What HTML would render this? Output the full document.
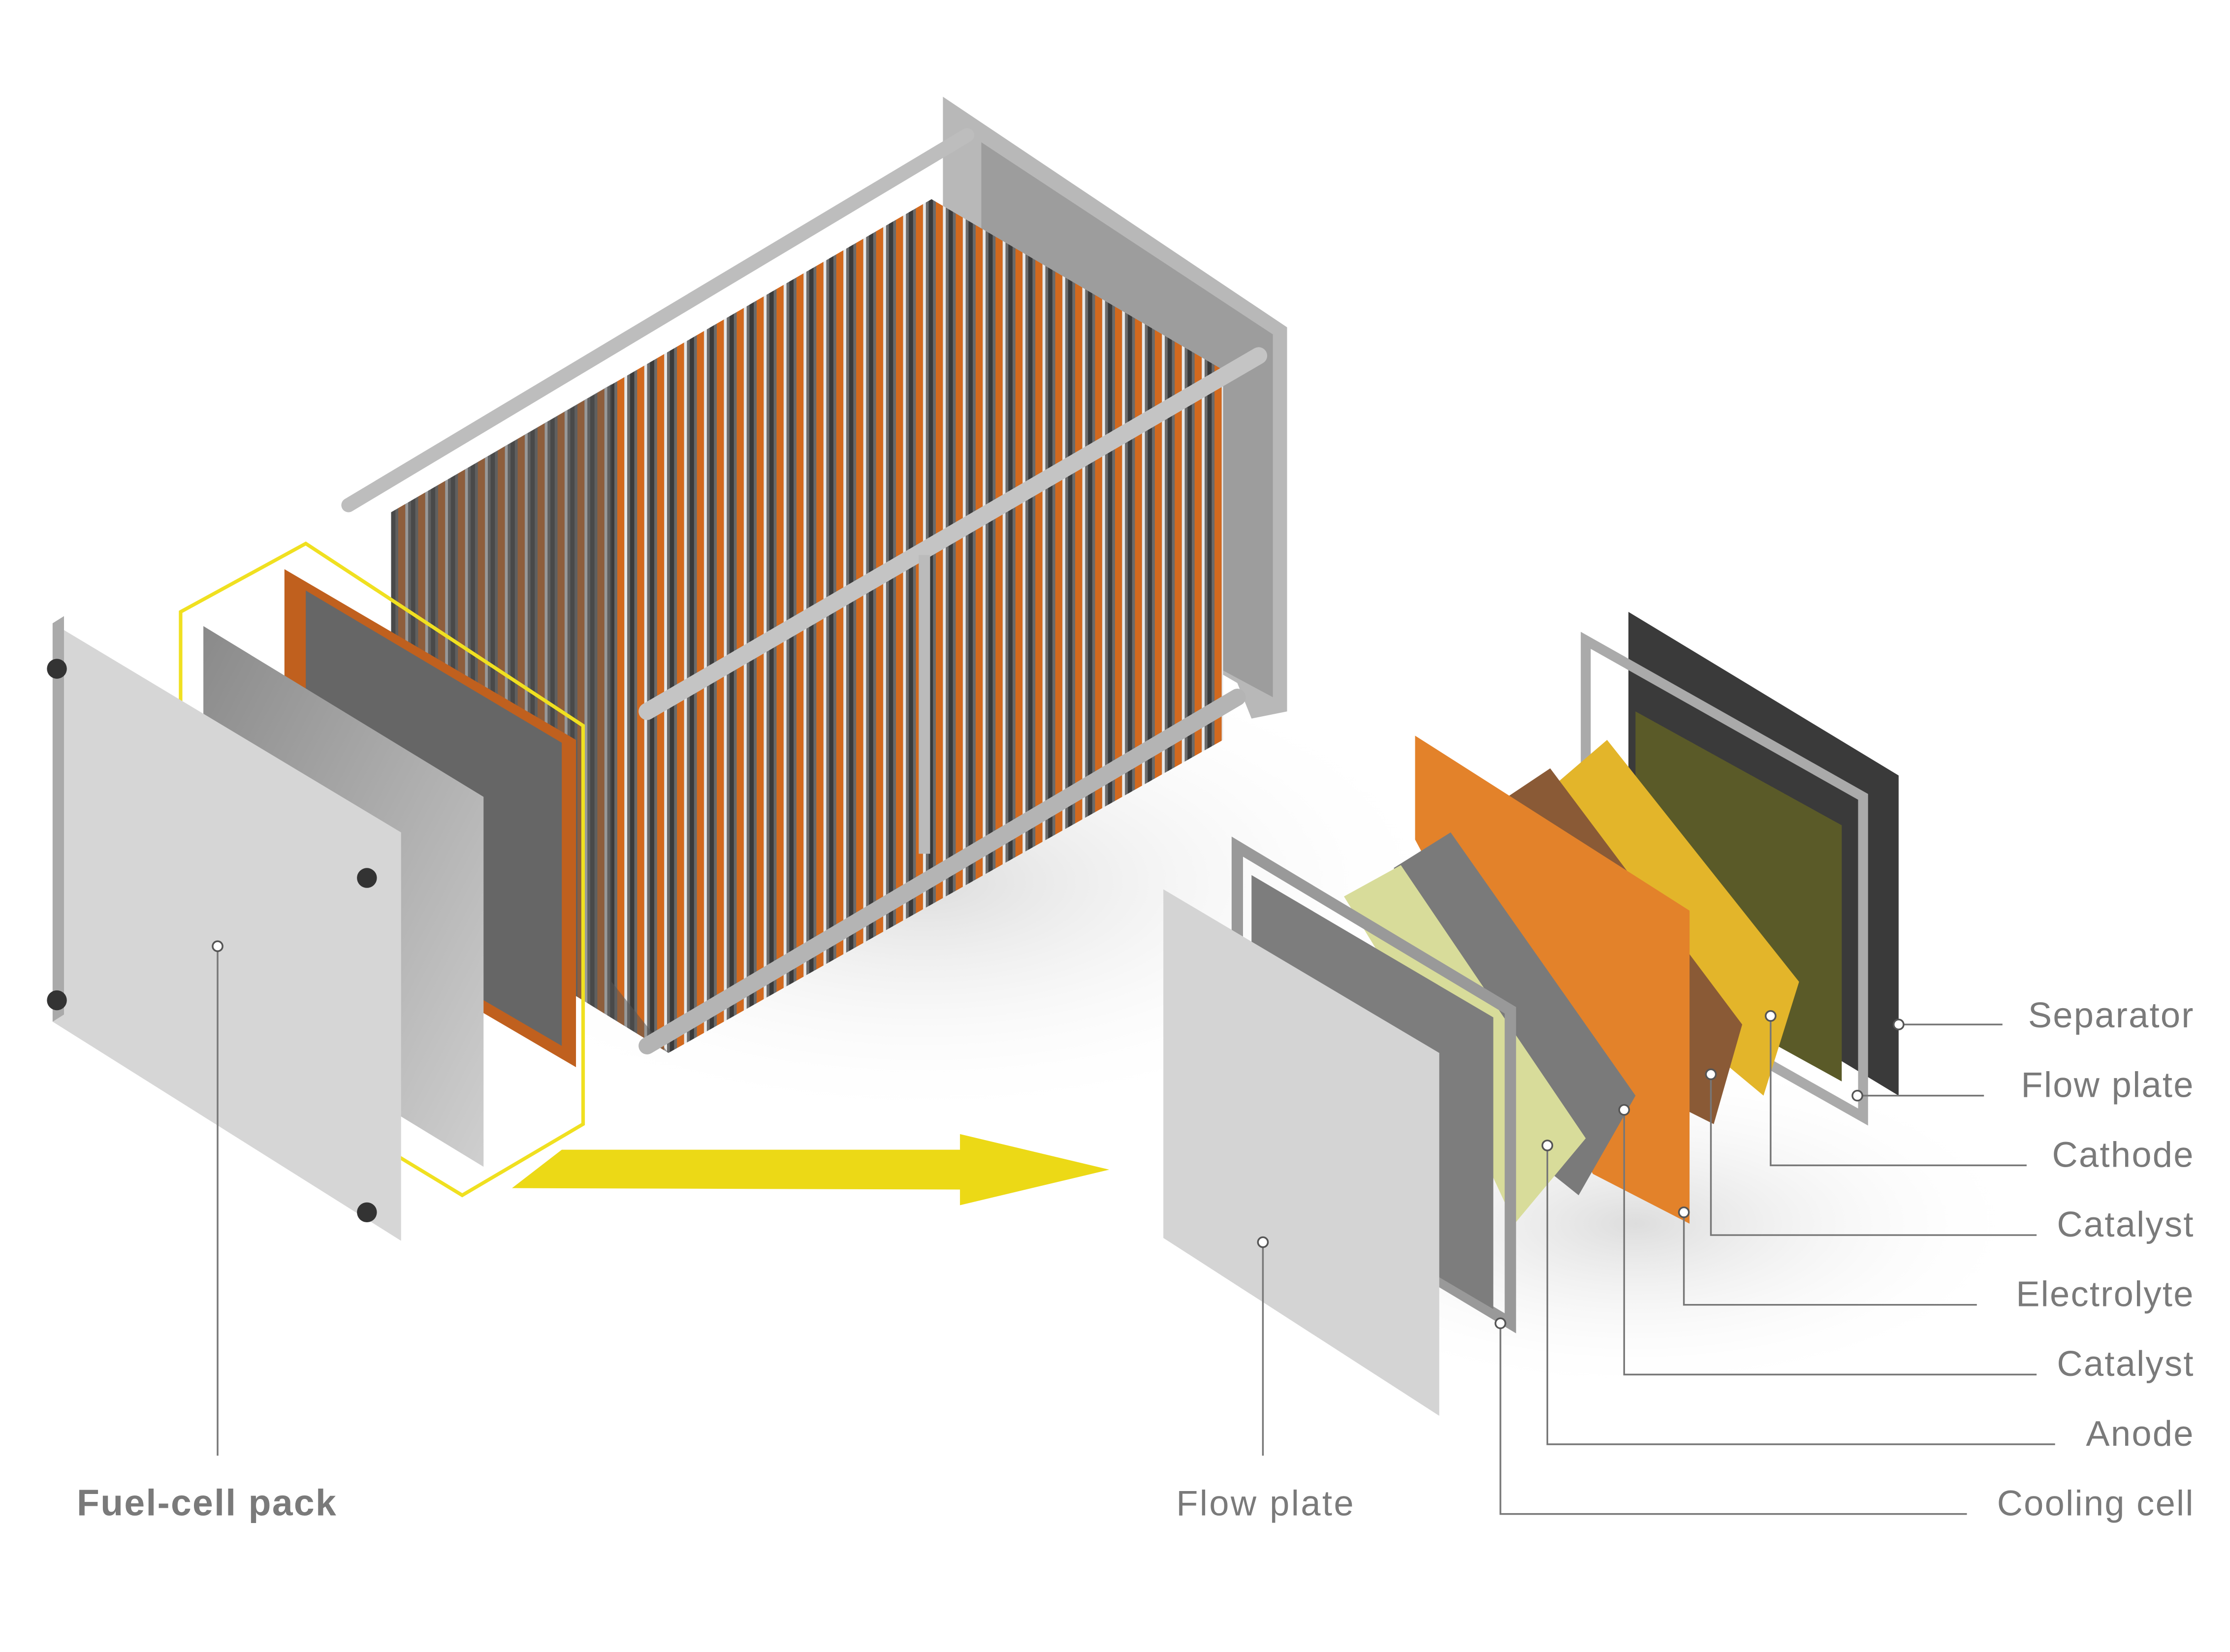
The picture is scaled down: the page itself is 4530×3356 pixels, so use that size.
<!DOCTYPE html>
<html><head><meta charset="utf-8"><style>
html,body{margin:0;padding:0;background:#fff;}
svg{display:block}
text{font-family:"Liberation Sans",sans-serif;fill:#7a7a7a;font-size:25px;letter-spacing:0.8px}
</style></head><body>
<svg width="4530" height="3356" viewBox="0 0 1568 1161" preserveAspectRatio="none" xmlns="http://www.w3.org/2000/svg">
<defs>
<pattern id="stripes" width="14" height="14" patternUnits="userSpaceOnUse" patternTransform="skewY(-30)">
<rect width="14" height="14" fill="#6a6a6a"/>
<rect x="0" width="5" height="14" fill="#d2691e"/>
<rect x="5" width="2" height="14" fill="#e8e8e8"/>
<rect x="9" width="3" height="14" fill="#3a3a3a"/>
</pattern>
<linearGradient id="gplate" x1="0" y1="0" x2="1" y2="1"><stop offset="0" stop-color="#8a8a8a"/><stop offset="1" stop-color="#cfcfcf"/></linearGradient>
<radialGradient id="shadow"><stop offset="0" stop-color="#ddd"/><stop offset="1" stop-color="#fff" stop-opacity="0"/></radialGradient>
</defs>
<rect width="1568" height="1161" fill="#fff"/>
<ellipse cx="650" cy="620" rx="380" ry="170" fill="url(#shadow)"/>
<ellipse cx="1150" cy="860" rx="280" ry="120" fill="url(#shadow)"/>
<polygon points="663,68 905,230 905,500 880,505 870,480 663,360" fill="#b8b8b8"/>
<polygon points="690,100 895,235 895,490 690,380" fill="#9d9d9d"/>
<polygon points="275,360 655,140 860,260 860,520 470,740 275,620" fill="url(#stripes)"/>
<polygon points="275,360 430,270 430,690 470,740 275,620" fill="#555" opacity="0.55"/>
<line x1="245" y1="355" x2="680" y2="95" stroke="#bdbdbd" stroke-width="10" stroke-linecap="round"/>
<line x1="455" y1="500" x2="885" y2="250" stroke="#c4c4c4" stroke-width="12" stroke-linecap="round"/>
<line x1="455" y1="735" x2="870" y2="490" stroke="#b4b4b4" stroke-width="12" stroke-linecap="round"/>
<line x1="650" y1="390" x2="650" y2="600" stroke="#bbb" stroke-width="8"/>
<polygon points="200,400 405,520 405,750 200,630" fill="#c0601e"/>
<polygon points="215,415 395,522 395,735 215,630" fill="#666"/>
<polygon points="143,440 340,560 340,820 143,700" fill="url(#gplate)"/>
<polygon points="127,430 215,382 410,510 410,790 325,840 127,720" fill="none" stroke="#f0e020" stroke-width="2.5"/>
<polygon points="37,438 282,585 282,872 37,718" fill="#d6d6d6"/>
<polygon points="37,438 45,433 45,713 37,718" fill="#aaa"/>
<circle cx="40" cy="470" r="7" fill="#333"/><circle cx="40" cy="703" r="7" fill="#333"/>
<circle cx="258" cy="617" r="7" fill="#333"/><circle cx="258" cy="852" r="7" fill="#333"/>
<polygon points="360,835 395,808 675,808 675,797 780,822 675,847 675,836" fill="#ecd916"/>
<polygon points="1145,430 1335,545 1335,770 1145,655" fill="#3a3a3a"/>
<polygon points="1115,450 1310,560 1310,785 1115,675" fill="none" stroke="#aaa" stroke-width="7"/>
<polygon points="1150,500 1295,580 1295,760 1150,680" fill="#5a5a28"/>
<polygon points="1095,550 1130,520 1265,690 1240,770 1180,720" fill="#e3b52a"/>
<polygon points="1060,560 1090,540 1225,720 1205,790 1145,760" fill="#8a5a36"/>
<polygon points="995,517 1188,640 1188,860 1120,825 995,590" fill="#e3822a"/>
<polygon points="980,610 1020,585 1150,770 1110,840 1060,800" fill="#7a7a7a"/>
<polygon points="945,630 985,608 1115,800 1065,860 1000,720" fill="#d8dc9a"/>
<polygon points="870,595 1062,710 1062,930 870,815" fill="none" stroke="#999" stroke-width="8"/>
<polygon points="880,615 1050,715 1050,920 880,820" fill="#7d7d7d"/>
<polygon points="818,625 1012,740 1012,995 818,870" fill="#d4d4d4"/>
<g stroke="#777" stroke-width="1.2" fill="none">
<polyline points="1335,720 1408,720"/>
<polyline points="1306,770 1395,770"/>
<polyline points="1245,714 1245,819 1425,819"/>
<polyline points="1203,755 1203,868 1432,868"/>
<polyline points="1184,852 1184,917 1390,917"/>
<polyline points="1142,780 1142,966 1432,966"/>
<polyline points="1088,805 1088,1015 1445,1015"/>
<polyline points="1055,930 1055,1064 1383,1064"/>
<polyline points="888,873 888,1023"/>
<polyline points="153,665 153,1023"/>
</g>
<g fill="#fff" stroke="#555" stroke-width="1.2">
<circle cx="1335" cy="720" r="3.5"/><circle cx="1306" cy="770" r="3.5"/><circle cx="1245" cy="714" r="3.5"/>
<circle cx="1203" cy="755" r="3.5"/><circle cx="1184" cy="852" r="3.5"/><circle cx="1142" cy="780" r="3.5"/>
<circle cx="1088" cy="805" r="3.5"/><circle cx="1055" cy="930" r="3.5"/><circle cx="888" cy="873" r="3.5"/><circle cx="153" cy="665" r="3.5"/>
</g>
<g text-anchor="end">
<text x="1543" y="722">Separator</text>
<text x="1543" y="771">Flow plate</text>
<text x="1543" y="820">Cathode</text>
<text x="1543" y="869">Catalyst</text>
<text x="1543" y="918">Electrolyte</text>
<text x="1543" y="967">Catalyst</text>
<text x="1543" y="1016">Anode</text>
<text x="1543" y="1065">Cooling cell</text>
</g>
<text x="890" y="1065" text-anchor="middle" style="letter-spacing:1.2px">Flow plate</text>
<text x="54" y="1065" style="font-weight:bold;font-size:26px;letter-spacing:0.8px">Fuel-cell pack</text>
</svg>
</body></html>
